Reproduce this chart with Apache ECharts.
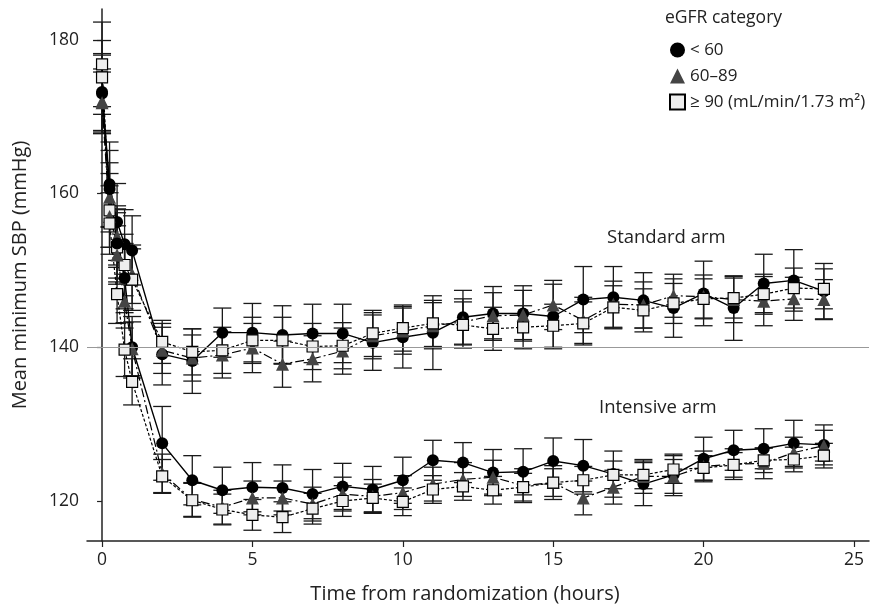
<!DOCTYPE html>
<html><head><meta charset="utf-8">
<script src="https://cdn.jsdelivr.net/npm/echarts@6/dist/echarts.min.js"></script>
<style>html,body{margin:0;padding:0;background:#fff}#c{width:874px;height:609px}</style>
</head><body><div id="c"></div>
<script>
const hours = [0,0.25,0.5,0.75,1,2,3,4,5,6,7,8,9,10,11,12,13,14,15,16,17,18,19,20,21,22,23,24];
const xTicks = [0,5,10,15,20,25];
const yTicks = [120,140,160,180];
const seriesNames = ['< 60','60–89','≥ 90 (mL/min/1.73 m²)'];

// Standard arm means
const stdLt60  = [173.2,161.2,156.3,153.4,152.6,139.1,138.2,141.9,141.9,141.6,141.8,141.8,140.6,141.3,141.9,143.9,144.4,144.4,144.0,146.2,146.5,146.1,145.1,147.0,145.1,148.3,148.7,147.3];
const std6089  = [172.0,159.5,154.4,149.0,149.5,139.6,138.6,139.0,139.9,137.8,138.5,139.5,141.5,142.1,142.8,143.3,144.1,144.2,145.5,143.5,145.6,145.5,146.7,146.6,146.2,146.0,146.3,146.2];
const stdGe90  = [176.8,157.8,153.0,150.7,148.8,140.7,139.4,139.6,140.9,140.9,140.1,140.2,141.8,142.5,143.1,142.9,142.4,142.6,142.8,143.1,145.2,144.8,145.7,146.3,146.4,146.9,147.7,147.6];
// Intensive arm means
const intLt60  = [173.0,160.6,153.5,149.0,140.0,127.5,122.7,121.4,121.8,121.7,120.9,121.9,121.5,122.7,125.3,125.0,123.7,123.8,125.2,124.6,123.5,122.2,123.4,125.5,126.6,126.8,127.5,127.3];
const int6089  = [171.8,157.0,152.0,146.0,139.8,123.6,120.2,119.2,120.4,120.4,119.6,120.9,120.6,121.1,122.2,122.8,123.1,122.0,122.4,120.4,121.8,123.2,123.2,124.5,124.8,124.9,126.3,127.2];
const intGe90  = [175.1,156.1,146.9,139.7,135.5,123.2,120.1,118.9,118.2,117.9,119.0,120.0,120.4,119.9,121.5,121.9,121.4,121.8,122.4,122.7,123.4,123.4,124.1,124.3,124.7,125.3,125.4,125.9];

// Error half-widths
const stdLt60Err = [5.0,5.5,5.0,4.5,4.5,4.0,4.2,3.2,3.8,3.8,3.8,3.8,3.6,4.0,4.8,3.5,3.5,3.6,4.2,4.3,4.0,3.6,3.8,4.2,4.2,3.8,4.0,3.6];
const std6089Err = [4.2,4.5,4.0,4.0,3.8,3.0,3.0,3.0,3.2,3.0,3.0,3.0,3.0,3.0,3.0,3.0,3.0,3.2,3.2,3.0,3.0,3.0,2.8,2.8,3.0,3.2,2.8,2.6];
const stdGe90Err = [5.5,4.8,4.5,4.0,4.0,2.8,3.0,3.0,3.0,3.0,3.0,3.0,3.0,3.0,3.0,3.0,2.8,2.8,2.8,2.8,2.8,2.8,2.6,2.6,2.6,2.6,2.6,2.6];
const intLt60Err = [5.0,5.0,4.5,4.5,4.0,4.8,3.2,3.0,3.2,3.0,3.2,3.0,3.0,3.0,2.6,2.6,3.0,3.0,3.0,3.4,3.0,2.8,2.7,2.8,2.6,2.6,3.0,2.6];
const int6089Err = [4.0,4.0,3.8,3.5,3.5,2.5,2.2,2.2,2.2,2.2,2.2,2.2,2.2,2.2,2.2,2.2,2.2,2.2,2.2,2.2,2.2,2.2,2.2,2.0,2.0,2.0,2.0,2.0];
const intGe90Err = [4.8,4.0,3.8,3.5,3.0,2.2,2.2,2.0,2.0,2.0,2.0,2.0,1.8,1.8,1.8,1.8,1.8,1.8,1.8,1.8,1.8,1.8,1.8,1.6,1.6,1.6,1.6,1.6];

const FONT = '"Open Sans", "Noto Sans", sans-serif';
const styles = [
  {symbol:'circle', size:12, fill:'#000', line:'solid', width:1.4},
  {symbol:'triangle', size:13, fill:'#444', line:[9,3,2,3], width:1.2},
  {symbol:'rect', size:11, fill:'#eeeeee', line:[3,2], width:1.2}
];

function pairs(vals){ return hours.map((h,i)=>[h, vals[i]]); }
function errs(vals, e){ return hours.map((h,i)=>[h, vals[i]-e[i], vals[i]+e[i]]); }
function renderErr(params, api){
  const x = api.value(0), lo = api.value(1), hi = api.value(2);
  const a = api.coord([x, hi]), b = api.coord([x, lo]);
  const w = 9;
  const st = {stroke:'#1a1a1a', lineWidth:1.3};
  return {type:'group', children:[
    {type:'line', shape:{x1:a[0],y1:a[1],x2:b[0],y2:b[1]}, style:st},
    {type:'line', shape:{x1:a[0]-w,y1:a[1],x2:a[0]+w,y2:a[1]}, style:st},
    {type:'line', shape:{x1:b[0]-w,y1:b[1],x2:b[0]+w,y2:b[1]}, style:st}
  ]};
}
function errSeries(vals, e){
  return {type:'custom', renderItem:renderErr, data:errs(vals,e), encode:{x:0,y:[1,2]}, z:1, silent:true};
}
function lineSeries(idx, vals){
  const s = styles[idx];
  return {type:'line', name:seriesNames[idx], data:pairs(vals), symbol:s.symbol, symbolSize:s.size,
    lineStyle:{color:'#000', width:s.width, type:s.line},
    itemStyle:{color:s.fill, borderColor:'#000', borderWidth: idx===2?1.2:0},
    z:3, animation:false};
}

const groups = [
  [0, stdLt60, stdLt60Err],[1, std6089, std6089Err],[2, stdGe90, stdGe90Err],
  [0, intLt60, intLt60Err],[1, int6089, int6089Err],[2, intGe90, intGe90Err]
];
const series = [];
groups.forEach(g=>series.push(errSeries(g[1], g[2])));
groups.forEach(g=>series.push(lineSeries(g[0], g[1])));
series[0].markLine = {silent:true, symbol:'none', label:{show:false},
  lineStyle:{color:'#999', width:1.2, type:'solid'}, data:[{yAxis:140}], animation:false};

const chart = echarts.init(document.getElementById('c'));
chart.setOption({
  animation:false,
  backgroundColor:'#fff',
  textStyle:{fontFamily:FONT},
  grid:{left:87, right:5, top:9, bottom:64},
  xAxis:{type:'value', min:-0.5, max:25.5,
    name:'Time from randomization (hours)', nameLocation:'middle', nameGap:43,
    nameTextStyle:{fontSize:20, color:'#222', fontFamily:FONT, padding:[0,26,0,0]},
    axisLine:{lineStyle:{color:'#222', width:1.5}},
    axisTick:{customValues:xTicks, length:6, lineStyle:{color:'#222', width:1.2}},
    axisLabel:{customValues:xTicks, fontSize:17.5, color:'#222', margin:10, fontFamily:FONT},
    splitLine:{show:false}},
  yAxis:{type:'value', min:114.8, max:184,
    name:'Mean minimum SBP (mmHg)', nameLocation:'middle', nameGap:57, nameRotate:90,
    nameTextStyle:{fontSize:20, color:'#222', fontFamily:FONT},
    axisLine:{show:true, lineStyle:{color:'#222', width:1.5}},
    axisTick:{show:true, customValues:yTicks, length:5, lineStyle:{color:'#222', width:1.2}},
    axisLabel:{customValues:yTicks, fontSize:17.5, color:'#222', margin:8, fontFamily:FONT},
    splitLine:{show:false}},
  legend:{orient:'vertical', left:664, top:35, itemWidth:15, itemHeight:15, itemGap:6,
    textStyle:{fontSize:17, color:'#222', fontFamily:FONT, lineHeight:20},
    data:[{name:seriesNames[0], icon:'circle'},{name:seriesNames[1], icon:'triangle'},{name:seriesNames[2], icon:'rect'}]},
  graphic:[
    {type:'text', left:665, top:9, style:{text:'eGFR category', fontSize:17.5, fill:'#222', fontFamily:FONT}},
    {type:'text', left:607, top:228, style:{text:'Standard arm', fontSize:18.5, fill:'#222', fontFamily:FONT}},
    {type:'text', left:599, top:398, style:{text:'Intensive arm', fontSize:18.5, fill:'#222', fontFamily:FONT}}
  ],
  series:series
});
</script></body></html>
